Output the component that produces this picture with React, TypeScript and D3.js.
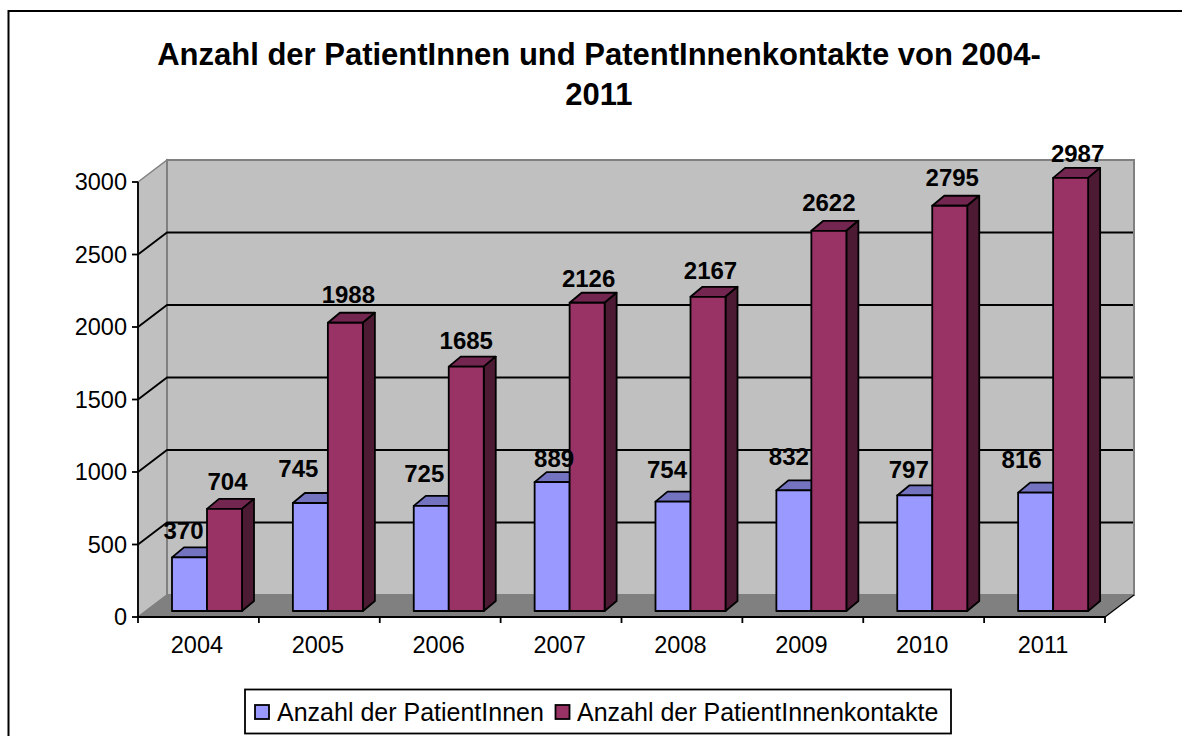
import React from 'react'
import * as d3 from 'd3'

const years = ['2004', '2005', '2006', '2007', '2008', '2009', '2010', '2011']
const patients = [370, 745, 725, 889, 754, 832, 797, 816]
const contacts = [704, 1988, 1685, 2126, 2167, 2622, 2795, 2987]
const yTicks = [0, 500, 1000, 1500, 2000, 2500, 3000]
const seriesNames = ['Anzahl der PatientInnen', 'Anzahl der PatientInnenkontakte']
const titleLines = ['Anzahl der PatientInnen und PatentInnenkontakte von 2004-', '2011']

const font = '"Liberation Sans", Arial, sans-serif'

// label offsets, the labels in the picture don't sit at a constant distance from the bars
const patientNudge = [[-6, -5], [-12, -13], [-7, -11], [2, -2], [-6, -11], [-5, -12], [-6, -4], [-14, -12]]
const contactNudge = [[1, 0], [1, -1], [-2, 1], [-0.5, 3], [0.5, 1], [-2, -1], [0.5, -1], [5, 3]]

const x = d3.scaleBand().domain(years).range([138, 1105])
const y = d3.scaleLinear().domain([0, 3000]).range([617, 182])
const barY = d3.scaleLinear().domain([0, 3000]).range([611, 176])

const wallDx = 29
const wallDy = -22
const barW = 35
const barDx = 12
const barDy = -10
const barInset = 34

const poly = (pts: number[][]) => pts.map(p => p.join(',')).join(' ')

function Bar({ x0, value, front, top, side }: { x0: number; value: number; front: string; top: string; side: string }) {
  const y0 = barY(value)
  const y1 = barY(0)
  return (
    <g stroke="#000" strokeWidth={1.8} strokeLinejoin="round">
      <polygon fill={top} points={poly([[x0, y0], [x0 + barDx, y0 + barDy], [x0 + barW + barDx, y0 + barDy], [x0 + barW, y0]])} />
      <polygon fill={side} points={poly([[x0 + barW, y0], [x0 + barW + barDx, y0 + barDy], [x0 + barW + barDx, y1 + barDy], [x0 + barW, y1]])} />
      <rect x={x0} y={y0} width={barW} height={y1 - y0} fill={front} />
    </g>
  )
}

export default function App() {
  const backL = 138 + wallDx
  const backR = 1105 + wallDx
  return (
    <svg width={1182} height={736} style={{ position: 'absolute', left: 0, top: 0 }} fontFamily={font}>
      <rect x={8.5} y={11} width={1300} height={900} fill="#fff" stroke="#000" strokeWidth={2} />

      {titleLines.map((t, i) => (
        <text key={t} x={599} y={65 + i * 40} textAnchor="middle" fontSize={31} fontWeight="bold">{t}</text>
      ))}

      {/* walls and floor */}
      <polygon points={poly([[138, y(3000)], [backL, y(3000) + wallDy], [backL, y(0) + wallDy], [138, y(0)]])} fill="#c0c0c0" stroke="#808080" strokeWidth={1.5} />
      <rect x={backL} y={y(3000) + wallDy} width={backR - backL} height={y(0) - y(3000)} fill="#c0c0c0" stroke="#808080" strokeWidth={2} />
      <polygon points={poly([[138, y(0)], [backL, y(0) + wallDy], [backR, y(0) + wallDy], [1105, y(0)]])} fill="#808080" />
      <path d={`M1105,${y(0)}L${backR},${y(0) + wallDy}`} stroke="#000" strokeWidth={1.2} />
      <path d={`M138,${y(0)}L${backL},${y(0) + wallDy}`} stroke="#808080" strokeWidth={1.2} />

      {/* gridlines */}
      {yTicks.filter(t => t > 0 && t < 3000).map(t => (
        <path key={t} d={`M138,${y(t)}L${backL},${y(t) + wallDy}L${backR - 1},${y(t) + wallDy}`} fill="none" stroke="#000" strokeWidth={1.8} />
      ))}

      {/* bars */}
      {years.map((yr, i) => {
        const x0 = x(yr)! + barInset
        return (
          <g key={yr}>
            <Bar x0={x0} value={patients[i]} front="#9999ff" top="#7373bf" side="#4d4d80" />
            <Bar x0={x0 + barW} value={contacts[i]} front="#993366" top="#732650" side="#4d1a33" />
          </g>
        )
      })}

      {/* axes */}
      <g stroke="#000" strokeWidth={1.8} fill="none">
        <path d={`M138,${y(3000)}V${y(0)}H1105`} />
        {yTicks.map(t => <path key={t} d={`M132,${y(t)}H138`} />)}
        {x.domain().map(yr => <path key={yr} d={`M${x(yr)},${y(0)}v6`} />)}
        <path d={`M1105,${y(0)}v6`} />
      </g>
      {yTicks.map(t => (
        <text key={t} x={127} y={y(t) + 8} textAnchor="end" fontSize={23.5}>{t}</text>
      ))}
      {years.map(yr => (
        <text key={yr} x={x(yr)! + x.bandwidth() / 2 - 1.5} y={653} textAnchor="middle" fontSize={23.5}>{yr}</text>
      ))}

      {/* value labels */}
      {years.map((yr, i) => {
        const x0 = x(yr)! + barInset
        return (
          <g key={yr} fontSize={24} fontWeight="bold" textAnchor="middle">
            <text x={x0 + barW / 2 + patientNudge[i][0]} y={barY(patients[i]) - 13 + patientNudge[i][1]}>{patients[i]}</text>
            <text x={x0 + barW * 1.5 + 2 + contactNudge[i][0]} y={barY(contacts[i]) - 19 + contactNudge[i][1]}>{contacts[i]}</text>
          </g>
        )
      })}

      {/* legend */}
      <rect x={245} y={689.5} width={706} height={44} fill="#fff" stroke="#000" strokeWidth={1.8} />
      <rect x={255} y={705} width={14} height={14} fill="#9999ff" stroke="#000" strokeWidth={1.8} />
      <text x={277} y={720.5} fontSize={25}>{seriesNames[0]}</text>
      <rect x={555.5} y={705} width={14} height={14} fill="#993366" stroke="#000" strokeWidth={1.8} />
      <text x={577} y={720.5} fontSize={25}>{seriesNames[1]}</text>
    </svg>
  )
}
